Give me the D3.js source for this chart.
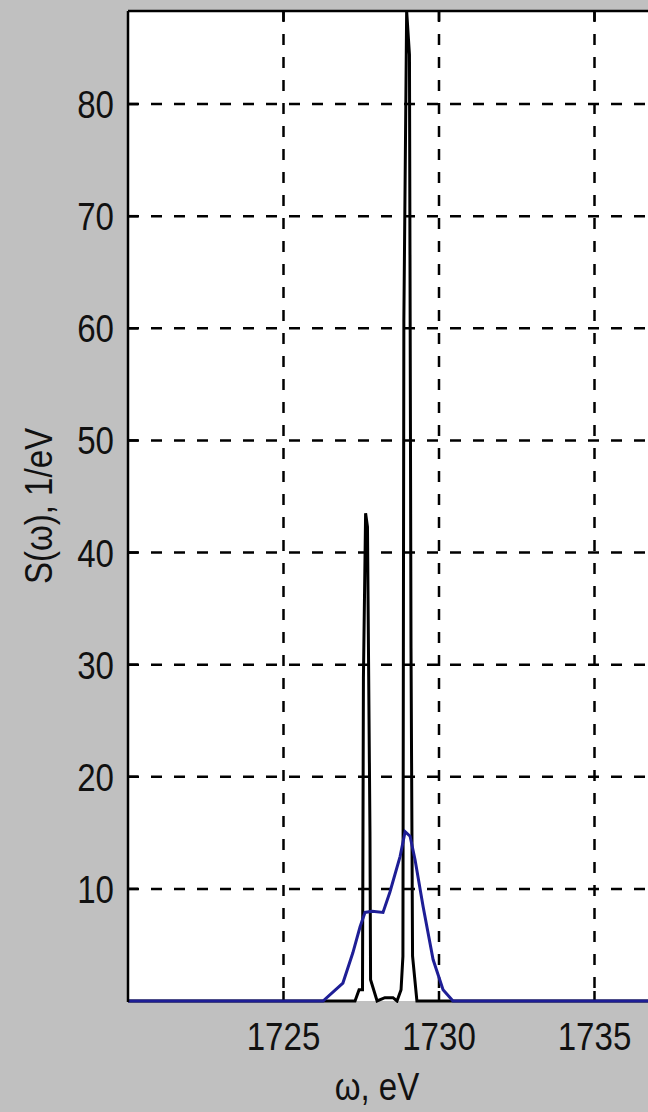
<!DOCTYPE html>
<html><head><meta charset="utf-8">
<script src="https://cdn.jsdelivr.net/npm/d3@7"></script>
<style>html,body{margin:0;padding:0;background:#c0c0c0;overflow:hidden}</style>
</head><body>
<svg id="chart" width="648" height="1112"></svg>
<script>
// Black (narrow) spectrum: energy (eV) and S(ω) (1/eV)
const blackOmega = [1720, 1727.30, 1727.43, 1727.54, 1727.57, 1727.64, 1727.70, 1727.78, 1727.80, 1728.01, 1728.26, 1728.52, 1728.65, 1728.78, 1728.84, 1728.87, 1728.96, 1729.05, 1729.10, 1729.15, 1729.29, 1740];
const blackS     = [0,    0,       1,       1,       28.8,    43.5,    42.3,    15.1,    1.9,     0,       0.3,     0.3,     0,       1,       4,       60.7,    88.3,    84.4,    31.5,    4,       0,       0];
// Blue (broadened) spectrum
const blueOmega = [1720, 1726.27, 1726.91, 1727.23, 1727.46, 1727.62, 1727.85, 1728.20, 1728.42, 1728.75, 1728.91, 1729.07, 1729.23, 1729.49, 1729.81, 1730.13, 1730.45, 1740];
const blueS     = [0,    0,       1.6,     4.3,     6.6,     7.9,     8.0,     7.9,     9.7,     12.9,    15.1,    14.7,    12.6,    8.4,     3.7,     1.0,     0,       0];
const xTicks = [1725, 1730, 1735];
const yTicks = [10, 20, 30, 40, 50, 60, 70, 80];
const xLabel = "ω, eV";
const yLabel = "S(ω), 1/eV";

const svg = d3.select("#chart");
const L = 128, T = 11, B = 1001, R = 750;
const x = d3.scaleLinear().domain([1720, 1740]).range([L, R]);
const y = d3.scaleLinear().domain([0, 88.3]).range([B, T]);
const font = "'Liberation Sans', Arial, sans-serif";
const FS = 38, SX = 0.87;

svg.append("rect").attr("x", L).attr("y", T).attr("width", R - L).attr("height", B - T).attr("fill", "#fff");

// grid
const grid = svg.append("g").attr("stroke", "#000").attr("stroke-width", 2.5).attr("stroke-dasharray", "11,12");
grid.selectAll("line.v").data(xTicks).join("line").attr("class", "v")
  .attr("x1", d => x(d)).attr("x2", d => x(d)).attr("y1", T).attr("y2", B);
grid.selectAll("line.h").data(yTicks).join("line").attr("class", "h")
  .attr("x1", L).attr("x2", R).attr("y1", d => y(d)).attr("y2", d => y(d));

// ticks (inward)
const tk = svg.append("g").attr("stroke", "#000").attr("stroke-width", 2.5);
tk.selectAll("line.bt").data(xTicks).join("line").attr("class", "bt")
  .attr("x1", d => x(d)).attr("x2", d => x(d)).attr("y1", B).attr("y2", B - 10);
tk.selectAll("line.tt").data(xTicks).join("line").attr("class", "tt")
  .attr("x1", d => x(d)).attr("x2", d => x(d)).attr("y1", T).attr("y2", T + 10);
tk.selectAll("line.lt").data(yTicks).join("line").attr("class", "lt")
  .attr("x1", L).attr("x2", L + 10).attr("y1", d => y(d)).attr("y2", d => y(d));

// data
svg.append("clipPath").attr("id", "clip").append("rect").attr("x", L).attr("y", T).attr("width", R - L).attr("height", B - T + 2);
const line = d3.line().x(d => x(d[0])).y(d => y(d[1]));
const dg = svg.append("g").attr("clip-path", "url(#clip)");
dg.append("path").datum(blackOmega.map((w, i) => [w, blackS[i]]))
  .attr("d", line).attr("fill", "none").attr("stroke", "#000").attr("stroke-width", 3).attr("stroke-linejoin", "miter");
dg.append("path").datum(blueOmega.map((w, i) => [w, blueS[i]]))
  .attr("d", line).attr("fill", "none").attr("stroke", "#1e1e96").attr("stroke-width", 3);

// axes border
svg.append("line").attr("x1", L).attr("x2", L).attr("y1", T).attr("y2", B + 1).attr("stroke", "#000").attr("stroke-width", 2.5);
svg.append("line").attr("x1", L).attr("x2", R).attr("y1", T).attr("y2", T).attr("stroke", "#000").attr("stroke-width", 2.5);

function txt(g, tx, ty, anchor, s, rot) {
  g.append("text")
    .attr("transform", `translate(${tx},${ty})` + (rot ? " rotate(-90)" : "") + ` scale(${SX},1)`)
    .attr("text-anchor", anchor).attr("font-family", font).attr("font-size", FS)
    .attr("fill", "#111").text(s);
}
const tg = svg.append("g");
xTicks.forEach(d => txt(tg, x(d), 1050, "middle", d));
yTicks.forEach(d => txt(tg, 114, y(d) + 14, "end", d));
txt(tg, 377, 1100, "middle", xLabel);
txt(tg, 52, 506, "middle", yLabel, true);
</script>
</body></html>
